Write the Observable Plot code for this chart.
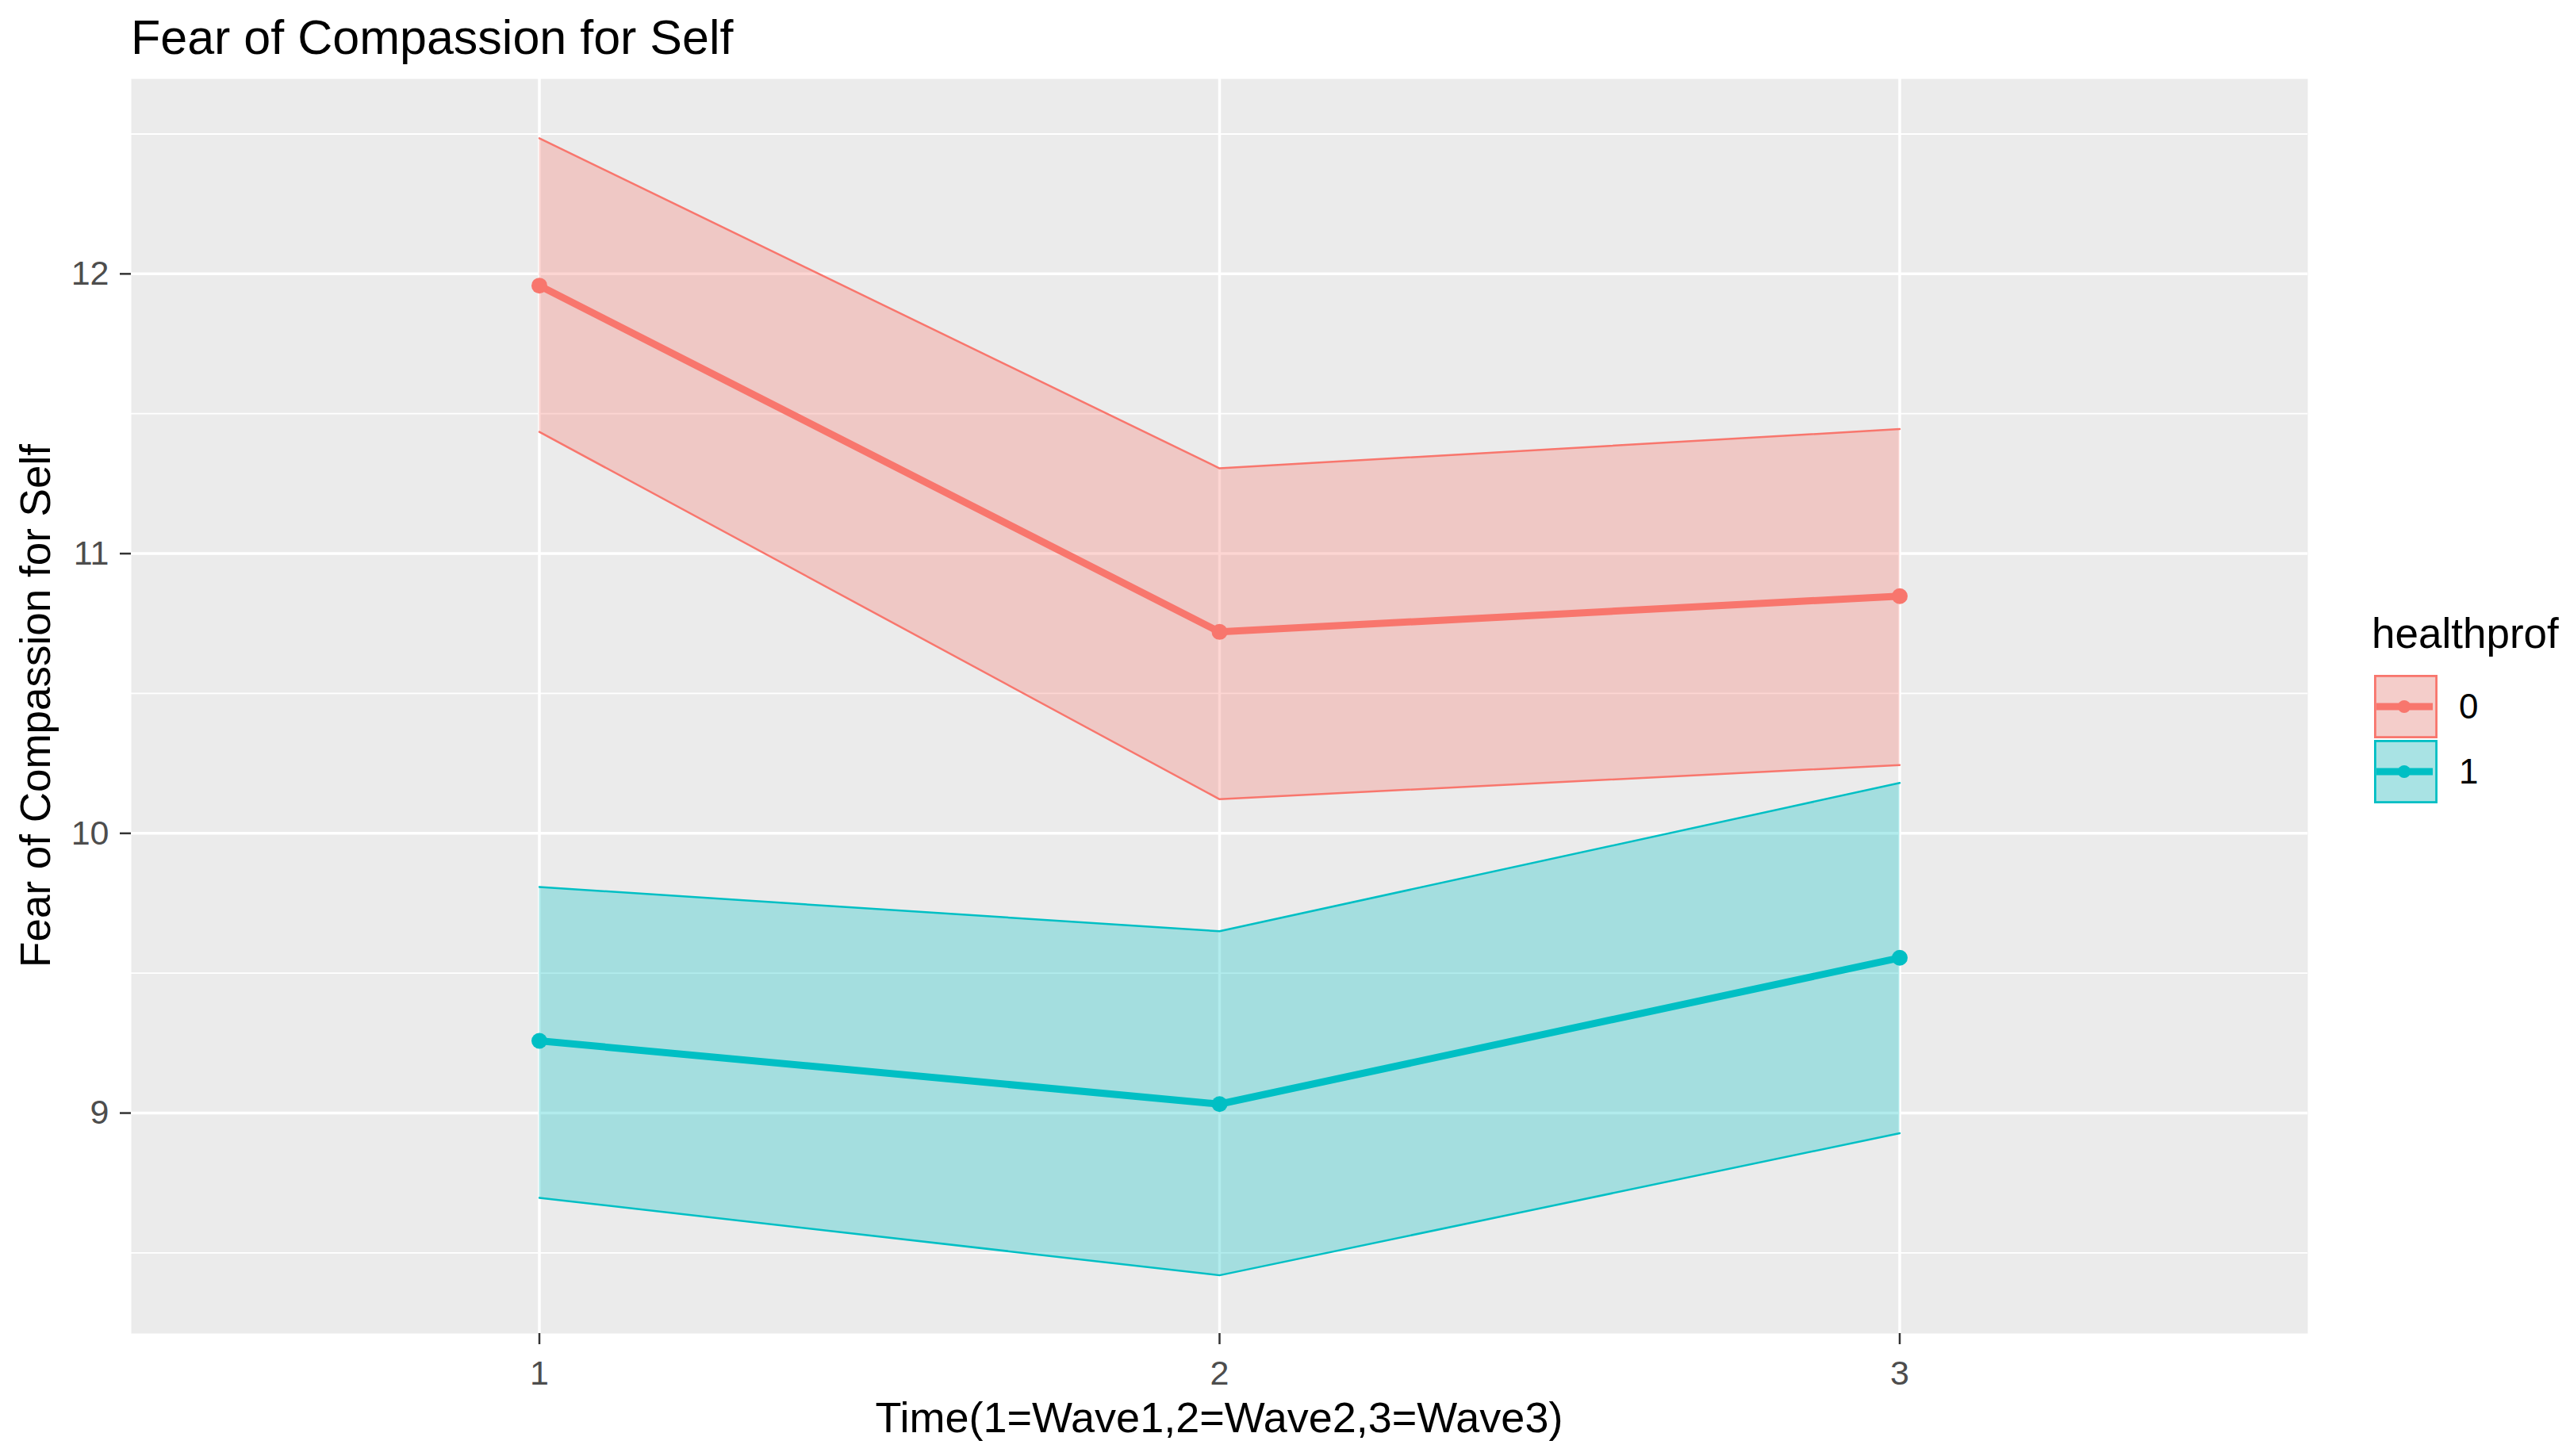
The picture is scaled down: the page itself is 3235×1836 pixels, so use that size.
<!DOCTYPE html>
<html><head><meta charset="utf-8">
<script src="https://cdn.jsdelivr.net/npm/d3@7"></script>
<script src="https://cdn.jsdelivr.net/npm/@observablehq/plot@0.6"></script>
<style>
html,body{margin:0;padding:0;background:#fff;}
#wrap{position:relative;width:3235px;height:1836px;font-family:"Liberation Sans",Arial,sans-serif;}
#wrap svg{position:absolute;left:0;top:0;}
</style></head><body><div id="wrap"></div>
<script>
// ---- data ----
const times = [1, 2, 3];
const xTickLabels = ["1", "2", "3"];
const groups = ["0", "1"];
const colors = ["#F8766D", "#00BFC4"];
const mean0  = [11.958, 10.720, 10.848];
const lower0 = [11.435, 10.122, 10.244];
const upper0 = [12.485, 11.305, 11.445];
const mean1  = [9.258, 9.032, 9.555];
const lower1 = [8.697, 8.420, 8.928];
const upper1 = [9.808, 9.650, 10.180];
const yTicks = [9, 10, 11, 12];
const yMinor = [8.5, 9.5, 10.5, 11.5, 12.5];
const titleText = "Fear of Compassion for Self";
const xTitle = "Time(1=Wave1,2=Wave2,3=Wave3)";
const yTitle = "Fear of Compassion for Self";
const legendTitle = "healthprof";

const series = [
  {group: groups[0], mean: mean0, lower: lower0, upper: upper0},
  {group: groups[1], mean: mean1, lower: lower1, upper: upper1}
];
const rows = series.flatMap(s => times.map((t, i) => ({
  time: t, group: s.group, mean: s.mean[i], lower: s.lower[i], upper: s.upper[i]
})));

const W = 3235, H = 1836;
const mL = 165, mR = 326, mT = 99, mB = 155;
const font = "Liberation Sans, Arial, sans-serif";

const plot = Plot.plot({
  width: W, height: H,
  marginLeft: mL, marginRight: mR, marginTop: mT, marginBottom: mB,
  style: {fontFamily: font, background: "transparent"},
  x: {domain: [0.4, 3.6]},
  y: {domain: [8.212, 12.697]},
  color: {domain: groups, range: colors},
  marks: [
    Plot.frame({fill: "#EBEBEB", stroke: null}),
    Plot.gridY(yMinor, {stroke: "white", strokeOpacity: 1, strokeWidth: 1.8}),
    Plot.gridY(yTicks, {stroke: "white", strokeOpacity: 1, strokeWidth: 3.5}),
    Plot.gridX(times, {stroke: "white", strokeOpacity: 1, strokeWidth: 3.5}),
    Plot.areaY(rows, {x: "time", y1: "lower", y2: "upper", z: "group", fill: "group", fillOpacity: 0.3}),
    Plot.lineY(rows, {x: "time", y: "lower", z: "group", stroke: "group", strokeWidth: 2.5}),
    Plot.lineY(rows, {x: "time", y: "upper", z: "group", stroke: "group", strokeWidth: 2.5}),
    Plot.lineY(rows, {x: "time", y: "mean", z: "group", stroke: "group", strokeWidth: 9}),
    Plot.dot(rows, {x: "time", y: "mean", fill: "group", r: 10}),
    Plot.axisX(times, {tickSize: 14, tickPadding: 20, tickFormat: (d, i) => xTickLabels[i],
      fontSize: 43, fill: "#4D4D4D", stroke: "#333333", strokeWidth: 2.5, label: null}),
    Plot.axisY(yTicks, {tickSize: 14, tickPadding: 14, tickFormat: d => String(d),
      fontSize: 43, fill: "#4D4D4D", stroke: "#333333", strokeWidth: 2.5, label: null})
  ]
});
const wrap = document.getElementById("wrap");
wrap.appendChild(plot);

// ---- overlay: titles and legend ----
const ov = d3.select(wrap).append("svg")
  .attr("width", W).attr("height", H)
  .style("font-family", font)
  .style("pointer-events", "none");

ov.append("text").attr("x", mL).attr("y", 68)
  .attr("font-size", 61).attr("fill", "black").text(titleText);

const panelCx = mL + (W - mL - mR) / 2;
const panelCy = mT + (H - mT - mB) / 2;
ov.append("text").attr("x", panelCx).attr("y", 1806)
  .attr("text-anchor", "middle").attr("font-size", 54).attr("fill", "black").text(xTitle);
ov.append("text").attr("transform", `translate(63,${panelCy}) rotate(-90)`)
  .attr("text-anchor", "middle").attr("font-size", 53).attr("fill", "black").text(yTitle);

// legend
const lx = 2990, ly = 817;
ov.append("text").attr("x", lx).attr("y", ly)
  .attr("font-size", 53).attr("fill", "black").text(legendTitle);
groups.forEach((g, i) => {
  const kx = 2993, ky = 851 + i * 82, ks = 80;
  const c = colors[i];
  ov.append("rect").attr("x", kx).attr("y", ky).attr("width", ks).attr("height", ks).attr("fill", "#F2F2F2");
  ov.append("rect").attr("x", kx + 1.4).attr("y", ky + 1.4).attr("width", ks - 2.8).attr("height", ks - 2.8)
    .attr("fill", c).attr("fill-opacity", 0.3).attr("stroke", c).attr("stroke-width", 2.8);
  ov.append("line").attr("x1", kx + 3).attr("x2", kx + ks - 6).attr("y1", ky + ks / 2).attr("y2", ky + ks / 2)
    .attr("stroke", c).attr("stroke-width", 9);
  ov.append("circle").attr("cx", kx + ks / 2 - 2).attr("cy", ky + ks / 2).attr("r", 8).attr("fill", c);
  ov.append("text").attr("x", 3100).attr("y", ky + ks / 2 + 15)
    .attr("font-size", 44).attr("fill", "black").text(g);
});
</script></body></html>
